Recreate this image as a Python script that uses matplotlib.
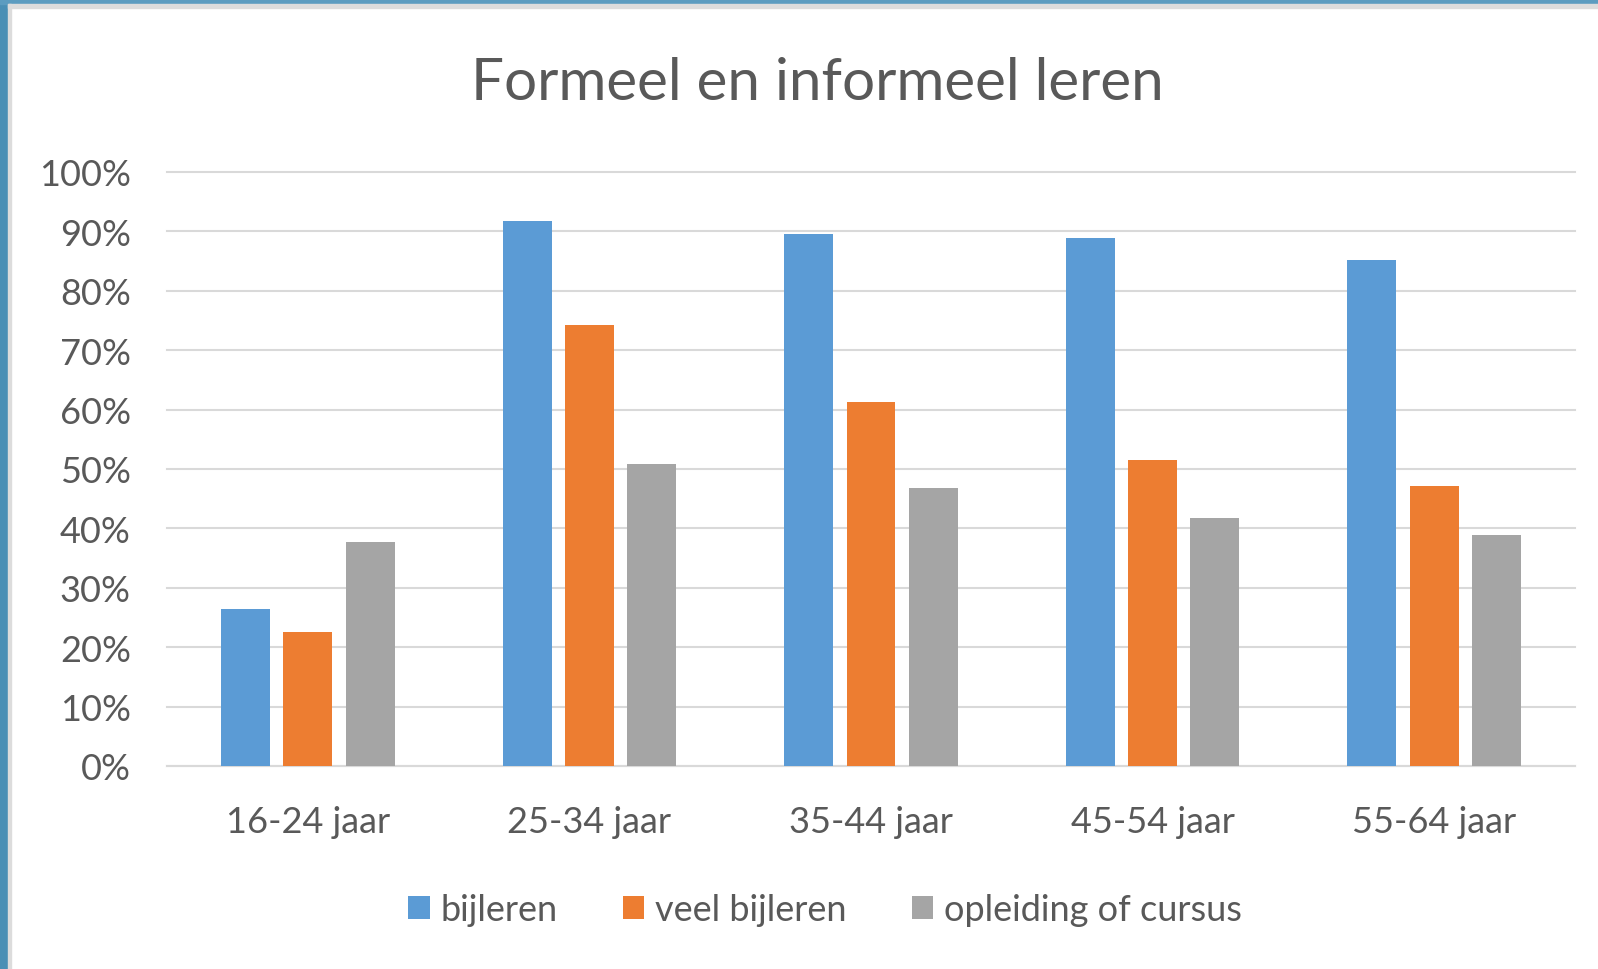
import matplotlib.pyplot as plt
import numpy as np
from matplotlib.patches import Rectangle
from matplotlib.ticker import PercentFormatter

categories = ["16-24 jaar", "25-34 jaar", "35-44 jaar", "45-54 jaar", "55-64 jaar"]
bijleren = [26.5, 91.8, 89.5, 88.9, 85.2]
veel_bijleren = [22.5, 74.3, 61.2, 51.5, 47.2]
opleiding = [37.7, 50.8, 46.8, 41.7, 38.9]
series_labels = ["bijleren", "veel bijleren", "opleiding of cursus"]
colors = ["#5B9BD5", "#ED7D31", "#A5A5A5"]

text_color = "#595959"
grid_color = "#D9D9D9"
plt.rcParams["font.family"] = ["Lato", "DejaVu Sans"]

fig = plt.figure(figsize=(15.98, 9.70), dpi=100)
W, H = 1598, 970

# screenshot frame: blue strip on left and top, thin grey edge
fig.patches.append(Rectangle((0, 0), 8 / W, 1, transform=fig.transFigure,
                             color="#4A8FB5", zorder=0))
fig.patches.append(Rectangle((0, 1 - 5 / H), 1, 5 / H, transform=fig.transFigure,
                             color="#5C9CC0", zorder=0))
fig.patches.append(Rectangle((8 / W, 0), 3 / W, 1 - 5 / H, transform=fig.transFigure,
                             color="#DCDCDC", zorder=0))
fig.patches.append(Rectangle((8 / W, 1 - 9 / H), 1, 4 / H, transform=fig.transFigure,
                             color="#DCDCDC", zorder=0))

ax = fig.add_axes([167 / W, 203 / H, 1408 / W, 594 / H])

x = np.arange(len(categories))
width = 0.174
step = 0.221
for i, (vals, lab, col) in enumerate(zip([bijleren, veel_bijleren, opleiding],
                                         series_labels, colors)):
    ax.bar(x + (i - 1) * step, np.array(vals) / 100, width, color=col,
           label=lab, zorder=3)

ax.set_xlim(-0.5, len(categories) - 0.5)
ax.set_ylim(0, 1)
ax.set_yticks(np.arange(0, 1.01, 0.1))
ax.yaxis.set_major_formatter(PercentFormatter(1.0, decimals=0))
ax.set_xticks(x)
ax.set_xticklabels(categories)
ax.grid(axis="y", color=grid_color, linewidth=1.5, zorder=0)
for s in ["top", "right", "left"]:
    ax.spines[s].set_visible(False)
ax.spines["bottom"].set_color(grid_color)
ax.spines["bottom"].set_linewidth(1.5)
ax.tick_params(axis="both", length=0, labelcolor=text_color, labelsize=26)
ax.tick_params(axis="y", pad=26)
ax.tick_params(axis="x", pad=28)
for gl in ax.get_ygridlines():
    gl.set_clip_on(False)

fig.text(817 / W, 1 - 84 / H, "Formeel en informeel leren", ha="center",
         va="center", fontsize=42, color=text_color)

fig.legend(loc="center", bbox_to_anchor=(825 / W, 1 - 911 / H), ncol=3,
           frameon=False, fontsize=26, labelcolor=text_color,
           handlelength=0.6, handleheight=0.6, handletextpad=0.3,
           columnspacing=1.8)

fig.savefig("out.png", dpi=100)
